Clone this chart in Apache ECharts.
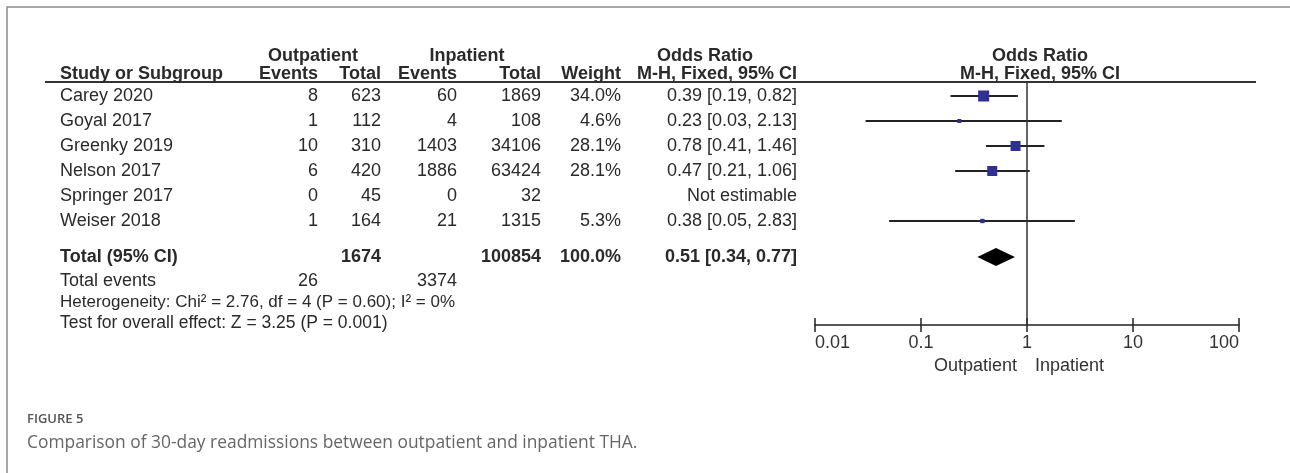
<!DOCTYPE html>
<html><head><meta charset="utf-8">
<script src="https://cdn.jsdelivr.net/npm/echarts@6/dist/echarts.min.js"></script>
<style>html,body{margin:0;padding:0;background:#fff}#c{width:1290px;height:473px}</style>
</head><body><div id="c"></div>
<script>
// ---------- data ----------
const studies = ['Carey 2020','Goyal 2017','Greenky 2019','Nelson 2017','Springer 2017','Weiser 2018'];
const outEvents = [8,1,10,6,0,1];
const outTotal = [623,112,310,420,45,164];
const inEvents = [60,4,1403,1886,0,21];
const inTotal = [1869,108,34106,63424,32,1315];
const weights = [34.0,4.6,28.1,28.1,null,5.3];
const oddsRatio = [0.39,0.23,0.78,0.47,null,0.38];
const ciLower = [0.19,0.03,0.41,0.21,null,0.05];
const ciUpper = [0.82,2.13,1.46,1.06,null,2.83];
const totalLabel = 'Total (95% CI)';
const totalOut = 1674, totalIn = 100854, totalWeight = 100.0;
const pooledOR = 0.51, pooledLower = 0.34, pooledUpper = 0.77;
const eventsLabel = 'Total events';
const totalOutEvents = 26, totalInEvents = 3374;
const heterogeneity = 'Heterogeneity: Chi\u00B2 = 2.76, df = 4 (P = 0.60); I\u00B2 = 0%';
const overallEffect = 'Test for overall effect: Z = 3.25 (P = 0.001)';
const groupHeaders = ['Outpatient','Inpatient','Odds Ratio','Odds Ratio'];
const columnHeaders = ['Study or Subgroup','Events','Total','Events','Total','Weight','M-H, Fixed, 95% CI','M-H, Fixed, 95% CI'];
const axisTicks = [0.01,0.1,1,10,100];
const favourLabels = ['Outpatient','Inpatient'];
const figureLabel = 'FIGURE 5';
const caption = 'Comparison of 30-day readmissions between outpatient and inpatient THA.';

// ---------- layout ----------
const FONT = '"Liberation Sans", Arial, sans-serif';
const TXT = '#2a2a2a';
const COLS = {
  study:{x:60,align:'left'}, oe:{x:318,align:'right'}, ot:{x:381,align:'right'},
  ie:{x:457,align:'right'}, it:{x:541,align:'right'}, w:{x:621,align:'right'},
  or:{x:797,align:'right'}, gOut:{x:313,align:'center'}, gIn:{x:467,align:'center'},
  gOR:{x:705,align:'center'}, plot:{x:1040,align:'center'}
};
const fmtOR = (o,l,h) => o == null ? 'Not estimable' : `${o.toFixed(2)} [${l.toFixed(2)}, ${h.toFixed(2)}]`;
const fmtW = w => w == null ? '' : w.toFixed(1) + '%';
const n = studies.length;
const POS_TOTAL = n + 0.44, POS_EVENTS = n + 1.4, POS_HET = n + 2.24, POS_TEST = n + 3.08;

const tableRows = [];
tableRows.push({pos:-1.6, bold:true, size:18, cells:[
  {t:groupHeaders[0],c:'gOut'},{t:groupHeaders[1],c:'gIn'},{t:groupHeaders[2],c:'gOR'},{t:groupHeaders[3],c:'plot'}]});
tableRows.push({pos:-0.88, bold:true, size:18, cells:[
  {t:columnHeaders[0],c:'study'},{t:columnHeaders[1],c:'oe'},{t:columnHeaders[2],c:'ot'},
  {t:columnHeaders[3],c:'ie'},{t:columnHeaders[4],c:'it'},{t:columnHeaders[5],c:'w'},
  {t:columnHeaders[6],c:'or'},{t:columnHeaders[7],c:'plot'}]});
studies.forEach((s,i) => tableRows.push({pos:i, bold:false, size:18, cells:[
  {t:s,c:'study'},{t:outEvents[i],c:'oe'},{t:outTotal[i],c:'ot'},{t:inEvents[i],c:'ie'},
  {t:inTotal[i],c:'it'},{t:fmtW(weights[i]),c:'w'},{t:fmtOR(oddsRatio[i],ciLower[i],ciUpper[i]),c:'or'}]}));
tableRows.push({pos:POS_TOTAL, bold:true, size:18, cells:[
  {t:totalLabel,c:'study'},{t:totalOut,c:'ot'},{t:totalIn,c:'it'},{t:fmtW(totalWeight),c:'w'},
  {t:fmtOR(pooledOR,pooledLower,pooledUpper),c:'or'}]});
tableRows.push({pos:POS_EVENTS, bold:false, size:18, cells:[
  {t:eventsLabel,c:'study'},{t:totalOutEvents,c:'oe'},{t:totalInEvents,c:'ie'}]});
tableRows.push({pos:POS_HET, bold:false, size:17, cells:[{t:heterogeneity,c:'study'}]});
tableRows.push({pos:POS_TEST, bold:false, size:17.5, cells:[{t:overallEffect,c:'study'}]});

const chart = echarts.init(document.getElementById('c'), null, {renderer:'canvas'});

const tickFmt = v => {
  const t = axisTicks.find(a => Math.abs(Math.log10(a) - Math.log10(v)) < 1e-6);
  return t === undefined ? '' : String(t);
};

const squareData = [];
const ciData = [];
studies.forEach((s,i) => {
  if (oddsRatio[i] != null) {
    squareData.push([oddsRatio[i], i]);
    ciData.push([ciLower[i], ciUpper[i], i]);
  }
});

const option = {
  animation:false,
  backgroundColor:'#fff',
  grid:{left:815, right:51, top:82, bottom:148, containLabel:false},
  xAxis:[{
    type:'log', logBase:10, min:0.01, max:100, position:'bottom',
    axisLine:{show:true, onZero:false, lineStyle:{color:'#222', width:1.5}},
    axisTick:{show:true, length:7, lineStyle:{color:'#222', width:1.5}},
    axisLabel:{margin:9, fontSize:18, color:'#333', fontFamily:FONT, formatter:tickFmt,
               alignMinLabel:'left', alignMaxLabel:'right'},
    splitLine:{show:false}, minorTick:{show:false}
  },{
    type:'log', logBase:10, min:0.01, max:100, position:'bottom', gridIndex:0,
    axisLine:{show:false, onZero:false},
    axisTick:{show:true, inside:true, length:7, lineStyle:{color:'#222', width:1.5}},
    axisLabel:{show:false}, splitLine:{show:false}
  }],
  yAxis:{type:'value', inverse:true, min:-0.56, max:9.16, show:false},
  graphic:[
    {type:'polyline', silent:true, shape:{points:[[7,473],[7,7],[1290,7]]},
     style:{stroke:'#8a8a8a', lineWidth:1.5, fill:null}},
    {type:'line', silent:true, shape:{x1:45, y1:82, x2:1256, y2:82},
     style:{stroke:'#333', lineWidth:2}},
    {type:'text', x:1017, y:366, style:{text:favourLabels[0], align:'right', verticalAlign:'middle',
     fontSize:18, fontFamily:FONT, fill:'#333'}},
    {type:'text', x:1035, y:366, style:{text:favourLabels[1], align:'left', verticalAlign:'middle',
     fontSize:18, fontFamily:FONT, fill:'#333'}},
    {type:'text', x:27, y:419, style:{text:figureLabel, align:'left', verticalAlign:'middle',
     fontSize:13, fontWeight:600, fontFamily:'"Open Sans", sans-serif', fill:'#555'}},
    {type:'text', x:27, y:443, style:{text:caption, align:'left', verticalAlign:'middle',
     fontSize:17.4, fontFamily:'"Open Sans", sans-serif', fill:'#666'}}
  ],
  series:[
    {
      type:'custom', name:'table', clip:false, silent:true,
      data: tableRows.map(r => [1, r.pos]),
      encode:{x:0, y:1},
      renderItem:(params, api) => {
        const row = tableRows[params.dataIndex];
        const y = api.coord([1, row.pos])[1];
        return {type:'group', children: row.cells.map(cell => {
          const col = COLS[cell.c];
          return {type:'text', x:col.x, y:y, style:{text:String(cell.t), align:col.align,
            verticalAlign:'middle', fontSize:row.size, fontWeight:row.bold?'bold':'normal',
            fontFamily:FONT, fill:TXT}};
        })};
      }
    },
    {
      type:'custom', name:'ci', silent:true, z:2,
      data: ciData, encode:{x:[0,1], y:2},
      renderItem:(params, api) => {
        const p1 = api.coord([api.value(0), api.value(2)]);
        const p2 = api.coord([api.value(1), api.value(2)]);
        return {type:'line', shape:{x1:p1[0], y1:p1[1], x2:p2[0], y2:p2[1]},
          style:{stroke:'#222', lineWidth:2}};
      }
    },
    {
      type:'scatter', name:'or', silent:true, z:3,
      symbol:'rect',
      symbolSize:(val) => 1.89 * Math.sqrt(weights[val[1]]),
      itemStyle:{color:'#2e3192', opacity:1},
      data: squareData,
      markLine:{silent:true, symbol:['none','none'], label:{show:false},
        lineStyle:{color:'#333', width:1.5, type:'solid'},
        data:[{xAxis:1}]}
    },
    {
      type:'custom', name:'pooled', silent:true, z:3,
      data:[[pooledLower, pooledOR, pooledUpper, POS_TOTAL]], encode:{x:[0,1,2], y:3},
      renderItem:(params, api) => {
        const l = api.coord([api.value(0), api.value(3)]);
        const m = api.coord([api.value(1), api.value(3)]);
        const h = api.coord([api.value(2), api.value(3)]);
        const hh = 9;
        return {type:'polygon', shape:{points:[[l[0],l[1]],[m[0],m[1]-hh],[h[0],h[1]],[m[0],m[1]+hh]]},
          style:{fill:'#000'}};
      }
    }
  ]
};
chart.setOption(option);
</script></body></html>
